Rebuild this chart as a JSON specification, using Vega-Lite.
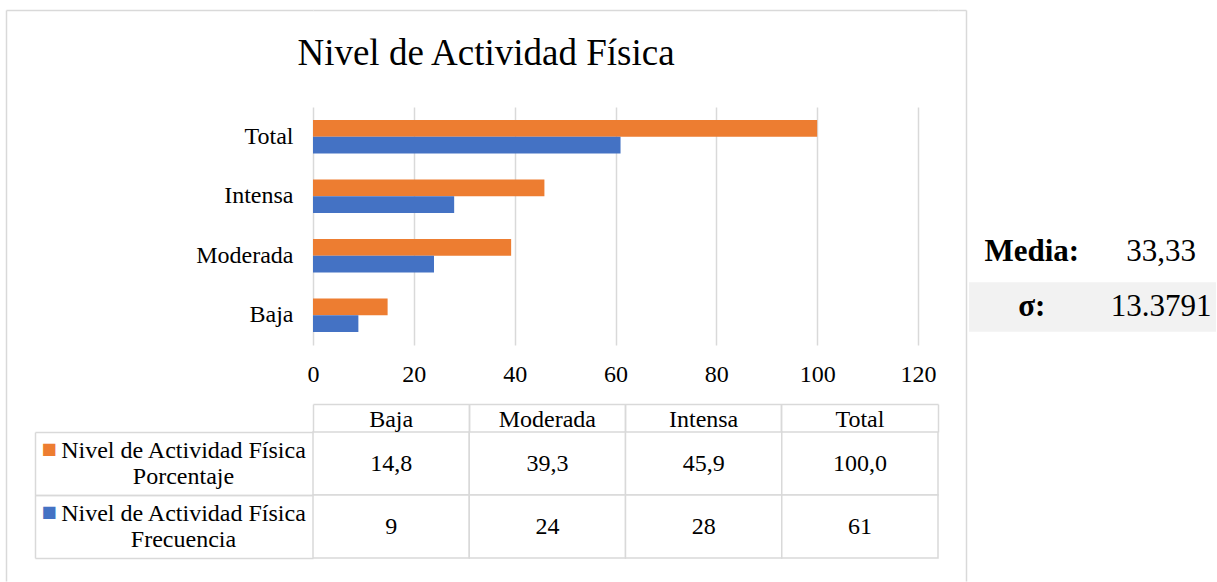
{
  "$schema": "https://vega.github.io/schema/vega-lite/v6.json",
  "padding": {"left": 5, "top": 3, "right": 0, "bottom": 0},
  "background": "white",
  "datasets": {
    "main": [
      {"cat": "Baja", "serie": "Porcentaje", "value": 14.8, "label": "14,8"},
      {"cat": "Moderada", "serie": "Porcentaje", "value": 39.3, "label": "39,3"},
      {"cat": "Intensa", "serie": "Porcentaje", "value": 45.9, "label": "45,9"},
      {"cat": "Total", "serie": "Porcentaje", "value": 100, "label": "100,0"},
      {"cat": "Baja", "serie": "Frecuencia", "value": 9, "label": "9"},
      {"cat": "Moderada", "serie": "Frecuencia", "value": 24, "label": "24"},
      {"cat": "Intensa", "serie": "Frecuencia", "value": 28, "label": "28"},
      {"cat": "Total", "serie": "Frecuencia", "value": 61, "label": "61"}
    ],
    "stats": [
      {"k": "Media:", "v": "33,33"},
      {"k": "σ:", "v": "13.3791"}
    ],
    "frame": [{"f": "a", "titulo": "Nivel de Actividad Física"}]
  },
  "bounds": "flush",
  "align": "each",
  "columns": 2,
  "spacing": {"row": 87, "column": 31},
  "concat": [
    {
      "width": 625,
      "height": 10,
      "data": {"name": "frame"},
      "layer": [
        {
          "mark": {"type": "text", "text": ""},
          "encoding": {
            "x": {"field": "f", "type": "nominal", "scale": {"type": "band", "paddingInner": 0, "paddingOuter": 0},
              "axis": {"orient": "top", "title": null, "labels": false, "domain": true, "domainColor": "#d9d9d9", "domainWidth": 1.5, "ticks": true, "bandPosition": 0, "tickOffset": -307, "tickSize": -571, "tickColor": "#d9d9d9", "tickWidth": 1.5}},
            "y": {"field": "f", "type": "nominal", "scale": {"type": "band", "paddingInner": 0, "paddingOuter": 0},
              "axis": {"orient": "left", "title": null, "labels": false, "domain": false, "ticks": true, "bandPosition": 0, "tickSize": 307, "tickColor": "#d9d9d9", "tickWidth": 1.5}}
          }
        },
        {
          "mark": {"type": "text", "text": ""},
          "encoding": {
            "x": {"field": "f", "type": "nominal", "scale": {"type": "band", "paddingInner": 0, "paddingOuter": 0},
              "axis": {"orient": "top", "title": null, "labels": false, "domain": false, "ticks": true, "bandPosition": 1, "tickOffset": 28, "tickSize": -571, "tickColor": "#d9d9d9", "tickWidth": 1.5}},
            "y": {"field": "f", "type": "nominal", "scale": {"type": "band", "paddingInner": 0, "paddingOuter": 0},
              "axis": {"orient": "right", "title": null, "labels": false, "domain": false, "ticks": true, "bandPosition": 0, "tickSize": 28, "tickColor": "#d9d9d9", "tickWidth": 1.5}}
          }
        },
        {
          "mark": {"type": "text", "fontSize": 37, "font": "Liberation Serif", "color": "#000000", "baseline": "alphabetic", "align": "center", "dx": -139.5, "dy": 50},
          "encoding": {"text": {"field": "titulo"}}
        }
      ],
      "resolve": {"axis": {"x": "independent", "y": "independent"}}
    },
    {"width": 10, "height": 10, "data": {"name": "frame"}, "mark": {"type": "text", "text": ""}},
    {
      "width": 605,
      "height": 238,
      "data": {"name": "main"},
      "mark": {"type": "bar"},
      "encoding": {
        "y": {
          "field": "cat", "type": "nominal",
          "sort": ["Total", "Intensa", "Moderada", "Baja"],
          "scale": {"paddingInner": 0.44, "paddingOuter": 0.22},
          "axis": {"title": null, "ticks": false, "domain": false, "labelPadding": 20, "labelFontSize": 24, "labelColor": "#000000"}
        },
        "yOffset": {"field": "serie", "type": "nominal", "sort": ["Porcentaje", "Frecuencia"], "scale": {"paddingInner": 0, "paddingOuter": 0}},
        "x": {
          "field": "value", "type": "quantitative",
          "scale": {"domain": [0, 120], "nice": false},
          "axis": {"values": [0, 20, 40, 60, 80, 100, 120], "title": null, "grid": true, "gridColor": "#d9d9d9", "gridWidth": 1.5, "domain": false, "ticks": false, "labelPadding": 17, "labelFontSize": 24, "labelFlush": false, "labelColor": "#000000"}
        },
        "color": {"field": "serie", "type": "nominal", "scale": {"domain": ["Porcentaje", "Frecuencia"], "range": ["#ED7D31", "#4472C4"]}, "legend": null}
      }
    },
    {
      "width": 247,
      "height": 238,
      "data": {"name": "stats"},
      "layer": [
        {
          "transform": [{"filter": "datum.k === 'σ:'"}],
          "mark": {"type": "rect", "color": "#f2f2f2"},
          "encoding": {
            "y": {"field": "k", "type": "nominal", "axis": null, "scale": {"type": "band", "domain": [" ", "Media:", "σ:"], "paddingInner": 0.1, "paddingOuter": 0.7136, "align": 0.8306}}
          }
        },
        {
          "mark": {"type": "text", "fontSize": 31, "fontWeight": "bold", "color": "#000000"},
          "encoding": {
            "y": {"field": "k", "type": "nominal", "axis": null, "scale": {"type": "band", "domain": [" ", "Media:", "σ:"], "paddingInner": 0.1, "paddingOuter": 0.7136, "align": 0.8306}},
            "x": {"datum": "key", "type": "nominal", "axis": null, "scale": {"type": "point", "domain": ["key", "val"], "padding": 0.4538, "align": 0.534}},
            "text": {"field": "k"}
          }
        },
        {
          "mark": {"type": "text", "fontSize": 31, "color": "#000000"},
          "encoding": {
            "y": {"field": "k", "type": "nominal", "axis": null, "scale": {"type": "band", "domain": [" ", "Media:", "σ:"], "paddingInner": 0.1, "paddingOuter": 0.7136, "align": 0.8306}},
            "x": {"datum": "val", "type": "nominal", "axis": null, "scale": {"type": "point", "domain": ["key", "val"], "padding": 0.4538, "align": 0.534}},
            "text": {"field": "v"}
          }
        }
      ]
    },
    {
      "width": 625,
      "height": 126,
      "data": {"name": "main"},
      "layer": [
        {
          "mark": {"type": "rect", "fill": "white", "stroke": "#d9d9d9", "strokeWidth": 1.5},
          "encoding": {
            "x": {"field": "cat", "type": "nominal", "sort": ["Baja", "Moderada", "Intensa", "Total"], "scale": {"type": "band", "paddingInner": 0, "paddingOuter": 0},
              "axis": {"orient": "top", "title": null, "domain": false, "ticks": false, "labelPadding": 6, "labelBaseline": "alphabetic", "labelFontSize": 24, "labelColor": "#000000", "labelAngle": 0}},
            "y": {"field": "serie", "type": "nominal", "sort": ["Porcentaje", "Frecuencia"], "scale": {"type": "band", "paddingInner": 0, "paddingOuter": 0},
              "axis": {"orient": "left", "title": null, "domain": false, "labels": false, "ticks": true, "tickSize": 278, "bandPosition": 0, "tickColor": "#d9d9d9", "tickWidth": 1.5}}
          }
        },
        {
          "mark": {"type": "text", "fontSize": 24, "color": "#000000"},
          "encoding": {
            "x": {"field": "cat", "type": "nominal", "sort": ["Baja", "Moderada", "Intensa", "Total"], "scale": {"type": "band", "paddingInner": 0, "paddingOuter": 0},
              "axis": {"orient": "top", "title": null, "domain": false, "labels": false, "ticks": true, "tickSize": 28, "bandPosition": 0, "tickColor": "#d9d9d9", "tickWidth": 1.5}},
            "y": {"field": "serie", "type": "nominal", "sort": ["Porcentaje", "Frecuencia"], "scale": {"type": "band", "paddingInner": 0, "paddingOuter": 0},
              "axis": {"orient": "left", "title": null, "domain": false, "labels": false, "ticks": true, "tickSize": 278, "bandPosition": 1, "tickColor": "#d9d9d9", "tickWidth": 1.5}},
            "text": {"field": "label"}
          }
        },
        {
          "mark": {"type": "text", "text": ""},
          "encoding": {
            "x": {"field": "cat", "type": "nominal", "sort": ["Baja", "Moderada", "Intensa", "Total"], "scale": {"type": "band", "paddingInner": 0, "paddingOuter": 0},
              "axis": {"orient": "top", "title": null, "offset": 28, "domain": true, "domainColor": "#d9d9d9", "domainWidth": 1.5, "labels": false, "ticks": true, "tickSize": -28, "bandPosition": 1, "tickColor": "#d9d9d9", "tickWidth": 1.5}},
            "y": {"field": "serie", "type": "nominal", "sort": ["Porcentaje", "Frecuencia"], "scale": {"type": "band", "paddingInner": 0, "paddingOuter": 0},
              "axis": {"orient": "left", "title": null, "offset": 278, "domain": true, "domainColor": "#d9d9d9", "domainWidth": 1.5, "ticks": false,
                "labelExpr": "'■'", "labelPadding": -13.5, "labelAlign": "center", "labelBaseline": "middle", "labelOffset": -15, "labelFontSize": 16, "labelFont": "DejaVu Sans",
                "labelColor": {"condition": {"test": "datum.value === 'Porcentaje'", "value": "#ED7D31"}, "value": "#4472C4"}}}
          }
        },
        {
          "mark": {"type": "text", "text": ""},
          "encoding": {
            "x": {"field": "cat", "type": "nominal", "sort": ["Baja", "Moderada", "Intensa", "Total"], "scale": {"type": "band", "paddingInner": 0, "paddingOuter": 0}, "axis": null},
            "y": {"field": "serie", "type": "nominal", "sort": ["Porcentaje", "Frecuencia"], "scale": {"type": "band", "paddingInner": 0, "paddingOuter": 0},
              "axis": {"orient": "left", "title": null, "domain": false, "ticks": false,
                "labelExpr": "datum.value === 'Porcentaje' ? ['Nivel de Actividad Física', 'Porcentaje'] : ['Nivel de Actividad Física', 'Frecuencia']",
                "labelPadding": 130, "labelAlign": "center", "labelBaseline": "middle", "labelOffset": -13, "labelFontSize": 24, "labelLineHeight": 26.5, "labelLimit": 0, "labelColor": "#000000"}}
          }
        }
      ],
      "resolve": {"axis": {"x": "independent", "y": "independent"}}
    }
  ],
  "config": {
    "view": {"stroke": null},
    "font": "Liberation Serif",
    "axis": {"labelFont": "Liberation Serif", "labelColor": "#000000", "labelFontSize": 24},
    "text": {"font": "Liberation Serif", "fontSize": 24},
    "title": {"font": "Liberation Serif"}
  }
}
